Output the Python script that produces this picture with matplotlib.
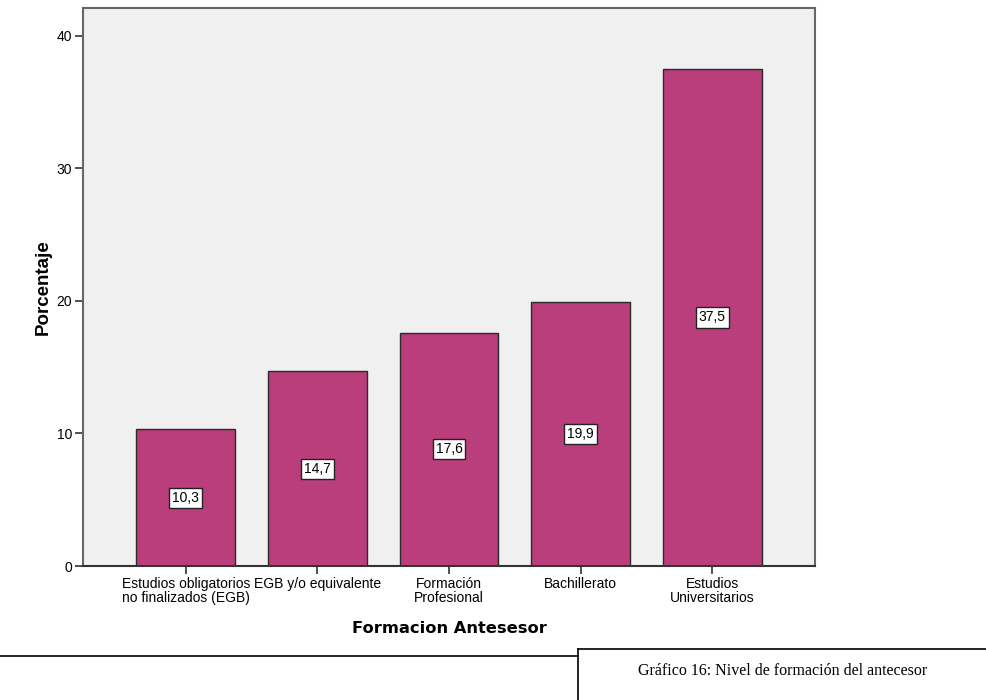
import matplotlib
matplotlib.use("Agg")
import matplotlib.pyplot as plt
from matplotlib.lines import Line2D

categories = [
    "Estudios obligatorios\nno finalizados (EGB)",
    "EGB y/o equivalente",
    "Formación\nProfesional",
    "Bachillerato",
    "Estudios\nUniversitarios",
]
percentages = [10.3, 14.7, 17.6, 19.9, 37.5]
yticks = [0, 10, 20, 30, 40]

fig = plt.figure(figsize=(9.86, 7.0), dpi=100)
ax = fig.add_axes([83 / 986, 1 - 566 / 700, (815 - 83) / 986, (566 - 8) / 700])
ax.set_facecolor("#eff0ef")

x = list(range(len(categories)))
ax.bar(x, percentages, width=0.75, color="#ba3e7c", edgecolor="#2a2a2a", linewidth=1.0, zorder=2)

for xi, v in zip(x, percentages):
    ax.text(xi, v / 2, f"{v:.1f}".replace(".", ","), ha="center", va="center",
            fontsize=10, family="Liberation Sans", zorder=3,
            bbox=dict(boxstyle="square,pad=0.22", facecolor="white", edgecolor="#222222", linewidth=1.0))

ax.set_xlim(-0.78, 4.78)
ax.set_ylim(0, 42.1)
ax.set_yticks(yticks)
ax.set_yticklabels([str(t) for t in yticks], family="Liberation Sans", fontsize=10)
ax.set_xticks(x)
ax.set_xticklabels(categories, family="Liberation Sans", fontsize=10, linespacing=0.95)

ax.tick_params(axis="both", direction="out", length=6, width=1.2, color="#333333", pad=2)
for s in ax.spines.values():
    s.set_color("#666666")
    s.set_linewidth(1.5)
ax.spines["bottom"].set_color("#333333")

ax.set_ylabel("Porcentaje", family="Liberation Sans", fontweight="bold", fontsize=13.5, labelpad=3)
ax.set_xlabel("Formacion Antesesor", family="DejaVu Sans", fontweight="bold", fontsize=11.7, labelpad=12)

# caption frame below the chart
fig.add_artist(Line2D([0, 578 / 986], [1 - 656 / 700] * 2, color="black", linewidth=1.2, transform=fig.transFigure))
fig.add_artist(Line2D([578 / 986, 1], [1 - 649 / 700] * 2, color="black", linewidth=1.2, transform=fig.transFigure))
fig.add_artist(Line2D([578 / 986, 578 / 986], [1 - 649 / 700, 0], color="black", linewidth=1.2, transform=fig.transFigure))
fig.text(783 / 986, 1 - 671 / 700, "Gráfico 16: Nivel de formación del antecesor",
         ha="center", va="center", family="Liberation Serif", fontsize=11.5)

fig.savefig("out.png", dpi=100)
